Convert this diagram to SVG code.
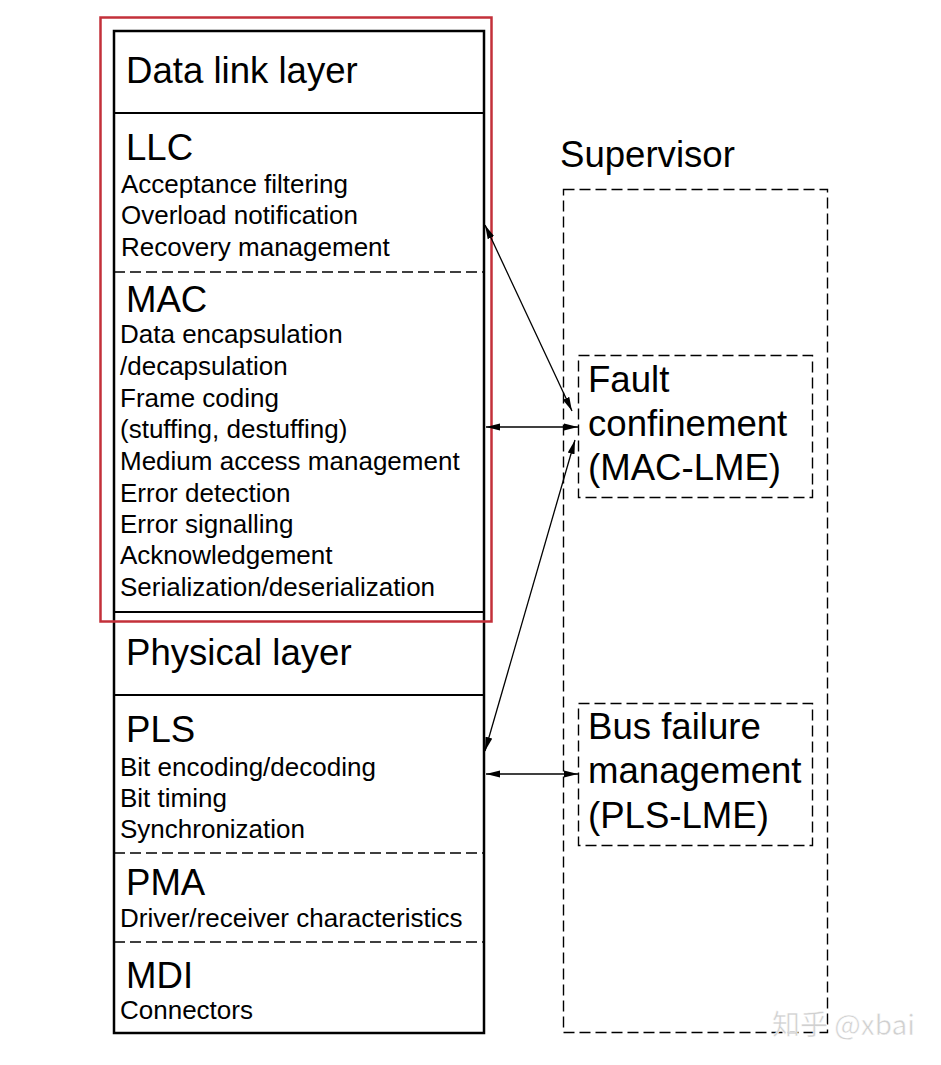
<svg xmlns="http://www.w3.org/2000/svg" width="941" height="1065" viewBox="0 0 941 1065">
<defs>
<style>
.big{font-family:"Liberation Sans",Arial,sans-serif;font-size:36.6px;fill:#000}
.sm{font-family:"Liberation Sans",Arial,sans-serif;font-size:26px;fill:#000}
.solid{fill:none;stroke:#000;stroke-width:2}
.dash{fill:none;stroke:#000;stroke-width:1.4;stroke-dasharray:11 5}
.conn{fill:none;stroke:#000;stroke-width:1.3}
</style>
<marker id="ah" viewBox="0 0 14 8" refX="14" refY="4" markerWidth="14" markerHeight="8" markerUnits="userSpaceOnUse" orient="auto-start-reverse">
<path d="M0,0.5 L14,4 L0,7.5 z" fill="#000"/>
</marker>
</defs>
<rect width="941" height="1065" fill="#fff"/>

<g id="stack">
<rect x="114" y="31" width="370" height="1002" fill="#fff" stroke="#000" stroke-width="2.5"/>
<line class="solid" x1="114" y1="113" x2="484" y2="113"/>
<line class="dash" x1="114" y1="272" x2="484" y2="272"/>
<line class="solid" x1="114" y1="612" x2="484" y2="612"/>
<line class="solid" x1="114" y1="695" x2="484" y2="695"/>
<line class="dash" x1="114" y1="853" x2="484" y2="853"/>
<line class="dash" x1="114" y1="942" x2="484" y2="942"/>
</g>

<g id="datalink">
<text class="big" x="126" y="83">Data link layer</text>
</g>
<g id="llc">
<text class="big" x="126" y="160">LLC</text>
<text class="sm" x="121" y="193">Acceptance filtering</text>
<text class="sm" x="121" y="224">Overload notification</text>
<text class="sm" x="121" y="256">Recovery management</text>
</g>
<g id="mac">
<text class="big" x="126" y="312">MAC</text>
<text class="sm" x="120" y="343">Data encapsulation</text>
<text class="sm" x="120" y="375">/decapsulation</text>
<text class="sm" x="120" y="407">Frame coding</text>
<text class="sm" x="120" y="438">(stuffing, destuffing)</text>
<text class="sm" x="120" y="470">Medium access management</text>
<text class="sm" x="120" y="502">Error detection</text>
<text class="sm" x="120" y="533">Error signalling</text>
<text class="sm" x="120" y="564">Acknowledgement</text>
<text class="sm" x="120" y="596">Serialization/deserialization</text>
</g>
<g id="physical">
<text class="big" x="126" y="665">Physical layer</text>
</g>
<g id="pls">
<text class="big" x="126" y="742">PLS</text>
<text class="sm" x="120" y="776">Bit encoding/decoding</text>
<text class="sm" x="120" y="807">Bit timing</text>
<text class="sm" x="120" y="838">Synchronization</text>
</g>
<g id="pma">
<text class="big" x="126" y="895">PMA</text>
<text class="sm" x="120" y="927">Driver/receiver characteristics</text>
</g>
<g id="mdi">
<text class="big" x="126" y="988">MDI</text>
<text class="sm" x="120" y="1019">Connectors</text>
</g>

<g id="highlight">
<rect x="100.5" y="17.5" width="391" height="604" fill="none" stroke="#c3303a" stroke-width="2.5"/>
</g>

<g id="supervisor">
<text class="big" x="560" y="167">Supervisor</text>
<rect class="dash" x="563.5" y="189.5" width="264" height="843"/>
</g>
<g id="fault">
<rect class="dash" x="578.5" y="355.5" width="234" height="142"/>
<text class="big" x="588" y="392">Fault</text>
<text class="big" x="588" y="436">confinement</text>
<text class="big" x="588" y="480">(MAC-LME)</text>
</g>
<g id="busfailure">
<rect class="dash" x="578.5" y="703.5" width="234" height="142"/>
<text class="big" x="588" y="739">Bus failure</text>
<text class="big" x="588" y="783">management</text>
<text class="big" x="588" y="828">(PLS-LME)</text>
</g>

<g id="connectors">
<line class="conn" x1="485" y1="225" x2="572" y2="411" marker-start="url(#ah)" marker-end="url(#ah)"/>
<line class="conn" x1="486" y1="427" x2="578" y2="427" marker-start="url(#ah)" marker-end="url(#ah)"/>
<line class="conn" x1="575" y1="440" x2="485" y2="751" marker-start="url(#ah)" marker-end="url(#ah)"/>
<line class="conn" x1="486" y1="774" x2="578" y2="774" marker-start="url(#ah)" marker-end="url(#ah)"/>
</g>

<text x="772" y="1035" font-family="'Noto Sans CJK SC','Liberation Sans',sans-serif" font-size="28" fill="#d0d0d0" stroke="#fff" stroke-width="0.5">知乎 @xbai</text>
</svg>
